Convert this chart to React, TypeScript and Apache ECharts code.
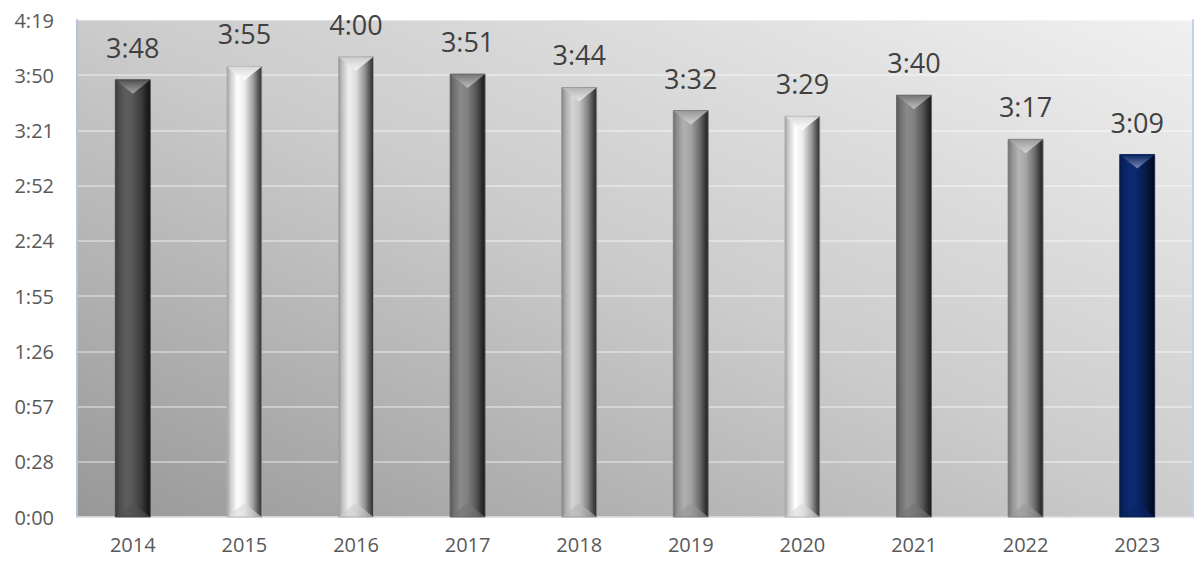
import React, { useEffect, useRef } from "react";
import * as echarts from "echarts";

const years = ["2014", "2015", "2016", "2017", "2018", "2019", "2020", "2021", "2022", "2023"];
// durations in minutes (h:mm)
const durationMinutes = [228, 235, 240, 231, 224, 212, 209, 220, 197, 189];
const barColors = ["#5e5e5e", "#ffffff", "#efefef", "#8a8a8a", "#d4d4d4", "#b0b0b0", "#ffffff", "#8a8a8a", "#b4b4b4", "#0b2a74"];
const axisStepMinutes = 28.8;
const axisSteps = 9;

const FONT = "'Open Sans', 'Noto Sans', sans-serif";

function fmt(seconds: number): string {
  const totalMin = Math.floor(seconds / 60 + 1e-6);
  const h = Math.floor(totalMin / 60);
  const m = totalMin % 60;
  return h + ":" + (m < 10 ? "0" : "") + m;
}

function hexToRgb(hex: string): number[] {
  const n = parseInt(hex.slice(1), 16);
  return [(n >> 16) & 255, (n >> 8) & 255, n & 255];
}
function shade(hex: string, f: number): string {
  const [r, g, b] = hexToRgb(hex);
  return `rgb(${Math.round(r * f)},${Math.round(g * f)},${Math.round(b * f)})`;
}
function tint(hex: string, f: number): string {
  const [r, g, b] = hexToRgb(hex);
  return `rgb(${Math.round(r + (255 - r) * f)},${Math.round(g + (255 - g) * f)},${Math.round(b + (255 - b) * f)})`;
}

export default function App() {
  const ref = useRef<HTMLDivElement>(null);
  useEffect(() => {
    if (!ref.current) return;
    const chart = echarts.init(ref.current, undefined, { renderer: "svg" });
    const data = years.map((_, i) => [i, durationMinutes[i] * 60]);
    const option: any = {
      animation: false,
      backgroundColor: "#ffffff",
      grid: {
        left: 77,
        right: 11,
        top: 20,
        bottom: 56,
        show: true,
        borderWidth: 0,
        backgroundColor: new echarts.graphic.LinearGradient(0, 1, 1, 0, [
          { offset: 0, color: "#989898" },
          { offset: 0.5, color: "#cbcbcb" },
          { offset: 1, color: "#f0f0f0" },
        ]),
      },
      xAxis: {
        type: "category",
        data: years,
        axisTick: { show: false },
        axisLine: { show: true, lineStyle: { color: "#d9d9d9", width: 1.5 } },
        axisLabel: { color: "#595959", fontSize: 20, fontFamily: FONT, margin: 17 },
      },
      yAxis: [
        {
          type: "value",
          min: 0,
          max: axisStepMinutes * axisSteps * 60,
          interval: axisStepMinutes * 60,
          axisLine: { show: true, lineStyle: { color: "#b4c3e4", width: 2 } },
          axisTick: { show: false },
          splitLine: { show: true, lineStyle: { color: "rgba(255,255,255,0.5)", width: 1.5 } },
          axisLabel: {
            color: "#595959",
            fontSize: 20,
            fontFamily: FONT,
            margin: 23,
            formatter: (v: number) => fmt(v),
          },
        },
        {
          type: "value",
          position: "right",
          min: 0,
          max: axisStepMinutes * axisSteps * 60,
          interval: axisStepMinutes * 60,
          axisLine: { show: true, lineStyle: { color: "#c4d0ea", width: 2 } },
          axisTick: { show: false },
          splitLine: { show: false },
          axisLabel: { show: false },
        },
      ],
      series: [
        {
          type: "custom",
          data,
          encode: { x: 0, y: 1 },
          renderItem: (params: any, api: any) => {
            const i = api.value(0);
            const v = api.value(1);
            const top = api.coord([i, v]);
            const bot = api.coord([i, 0]);
            const w = 35;
            const x0 = top[0] - w / 2;
            const h = bot[1] - top[1];
            const base = barColors[i];
            const grad = new echarts.graphic.LinearGradient(0, 0, 1, 0, [
              { offset: 0, color: shade(base, 0.62) },
              { offset: 0.1, color: shade(base, 0.8) },
              { offset: 0.3, color: base },
              { offset: 0.5, color: shade(base, 0.93) },
              { offset: 0.75, color: shade(base, 0.62) },
              { offset: 0.92, color: shade(base, 0.3) },
              { offset: 1, color: shade(base, 0.2) },
            ]);
            const bev = 14;
            const topGrad = new echarts.graphic.LinearGradient(0, 0, 0, 1, [
              { offset: 0, color: shade(base, 0.85) },
              { offset: 1, color: tint(base, 0.45) },
            ]);
            return {
              type: "group",
              children: [
                {
                  type: "rect",
                  shape: { x: x0, y: top[1], width: w, height: h },
                  style: { fill: grad },
                },
                {
                  type: "polygon",
                  shape: {
                    points: [
                      [x0, top[1]],
                      [x0 + w, top[1]],
                      [x0 + w / 2, top[1] + bev],
                    ],
                  },
                  style: { fill: topGrad },
                },
                {
                  type: "polygon",
                  shape: {
                    points: [
                      [x0, bot[1]],
                      [x0 + w, bot[1]],
                      [x0 + w / 2, bot[1] - bev],
                    ],
                  },
                  style: { fill: shade(base, 0.85), opacity: 0.6 },
                },
                {
                  type: "rect",
                  shape: { x: x0, y: top[1], width: w, height: h },
                  style: { fill: "none", stroke: shade(base, 0.7), lineWidth: 0.8 },
                },
                {
                  type: "text",
                  style: {
                    text: fmt(v),
                    x: top[0],
                    y: top[1] - 19,
                    textAlign: "center",
                    textVerticalAlign: "bottom",
                    fill: "#404040",
                    font: `27px ${FONT}`,
                  },
                },
              ],
            };
          },
        },
      ],
    };
    chart.setOption(option);
    return () => chart.dispose();
  }, []);
  return (
    <div
      ref={ref}
      style={{ position: "fixed", left: 0, top: 0, width: 1204, height: 573 }}
    />
  );
}
